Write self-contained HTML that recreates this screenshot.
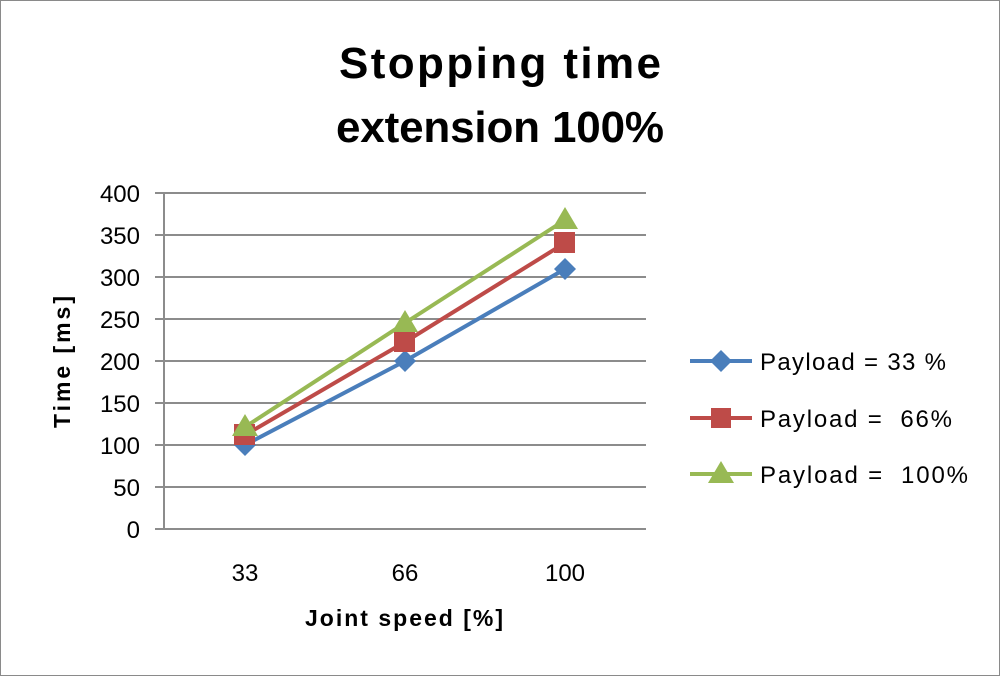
<!DOCTYPE html>
<html><head><meta charset="utf-8"><style>
html,body{margin:0;padding:0;background:#fff;}
svg{display:block;font-family:"Liberation Sans",Arial,sans-serif;}
</style></head><body>
<svg width="1000" height="676" viewBox="0 0 1000 676">
<rect x="0.5" y="0.5" width="999" height="675" fill="#fff" stroke="#8a8a8a"/>
<text x="500" y="78" font-size="44" font-weight="bold" text-anchor="middle" fill="#000" textLength="322">Stopping time</text>
<text x="500" y="142" font-size="44" font-weight="bold" text-anchor="middle" fill="#000" textLength="328">extension 100%</text>
<g stroke="#8c8c8c" stroke-width="2">
<line x1="155" y1="193" x2="646" y2="193"/>
<line x1="155" y1="235" x2="646" y2="235"/>
<line x1="155" y1="277" x2="646" y2="277"/>
<line x1="155" y1="319" x2="646" y2="319"/>
<line x1="155" y1="361" x2="646" y2="361"/>
<line x1="155" y1="403" x2="646" y2="403"/>
<line x1="155" y1="445" x2="646" y2="445"/>
<line x1="155" y1="487" x2="646" y2="487"/>
<line x1="155" y1="529" x2="646" y2="529"/>
<line x1="164" y1="193" x2="164" y2="529"/>
</g>
<g font-size="24" fill="#000" text-anchor="end">
<text x="140" y="202">400</text><text x="140" y="244">350</text><text x="140" y="286">300</text>
<text x="140" y="328">250</text><text x="140" y="370">200</text><text x="140" y="412">150</text>
<text x="140" y="454">100</text><text x="140" y="496">50</text><text x="140" y="538">0</text>
</g>
<g font-size="24" fill="#000" text-anchor="middle">
<text x="245" y="581">33</text><text x="405" y="581">66</text><text x="565" y="581">100</text>
</g>
<text x="404" y="626" font-size="23" font-weight="bold" text-anchor="middle" textLength="198">Joint speed [%]</text>
<text transform="translate(70,362) rotate(-90)" font-size="23" font-weight="bold" text-anchor="middle" textLength="132">Time [ms]</text>
<polyline points="245,445 405,361 565,269" fill="none" stroke="#4a7ebb" stroke-width="4"/>
<polyline points="245,435 405,342 565,243" fill="none" stroke="#be4b48" stroke-width="4"/>
<polyline points="245,427 405,323 565,220" fill="none" stroke="#98b954" stroke-width="4"/>
<g fill="#4a7ebb">
<polygon points="245,434 256,445 245,456 234,445"/><polygon points="405,350 416,361 405,372 394,361"/><polygon points="565,258 576,269 565,280 554,269"/>
</g>
<g fill="#be4b48">
<rect x="234" y="424" width="21" height="21"/><rect x="394" y="331" width="21" height="21"/><rect x="554" y="232" width="21" height="21"/>
</g>
<g fill="#98b954">
<polygon points="245,414 258,436 232,436"/><polygon points="405,310 418,332 392,332"/><polygon points="565,207 578,229 552,229"/>
</g>
<line x1="690" y1="361" x2="752" y2="361" stroke="#4a7ebb" stroke-width="4"/>
<polygon points="721,350 732,361 721,372 710,361" fill="#4a7ebb"/>
<line x1="690" y1="418" x2="752" y2="418" stroke="#be4b48" stroke-width="4"/>
<rect x="711" y="408" width="20" height="20" fill="#be4b48"/>
<line x1="690" y1="474" x2="752" y2="474" stroke="#98b954" stroke-width="4"/>
<polygon points="721,461 734,483 708,483" fill="#98b954"/>
<g font-size="24" fill="#000">
<text x="760" y="370" textLength="186">Payload = 33 %</text>
<text x="760" y="427" textLength="192">Payload =&#160;&#160;66%</text>
<text x="760" y="483" textLength="208">Payload =&#160;&#160;100%</text>
</g>
</svg>
</body></html>
